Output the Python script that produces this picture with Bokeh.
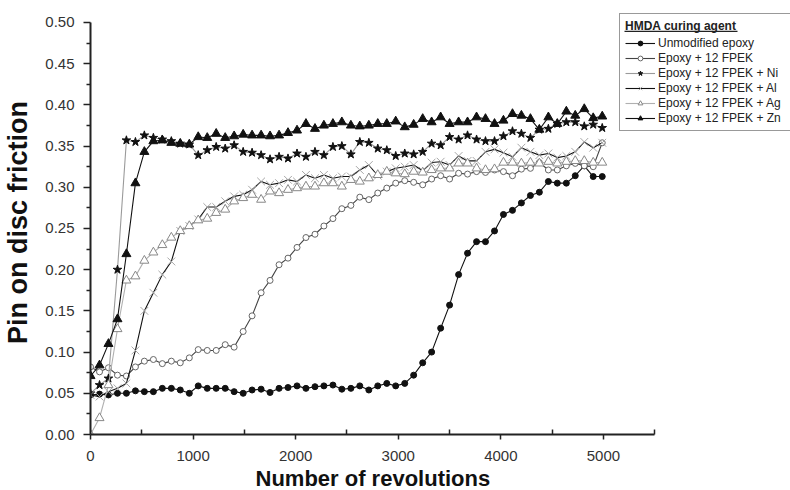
from bokeh.plotting import figure
from bokeh.models import (Legend, LegendItem, NumeralTickFormatter, FixedTicker,
                          Range1d, Title)
from bokeh.embed import file_html
from bokeh.resources import INLINE

# ---- data ----
revolutions = [0, 88, 175, 263, 350, 438, 525, 613, 700, 788, 875, 963, 1050, 1138, 1225,
               1313, 1400, 1488, 1575, 1663, 1750, 1838, 1925, 2013, 2100, 2188, 2275, 2363,
               2450, 2538, 2625, 2713, 2800, 2888, 2975, 3063, 3150, 3238, 3325, 3413, 3500,
               3588, 3675, 3763, 3850, 3938, 4025, 4113, 4200, 4288, 4375, 4463, 4550, 4638,
               4725, 4813, 4900, 4988]

unmodified = [0.048, 0.049, 0.048, 0.050, 0.050, 0.053, 0.052, 0.052, 0.056, 0.056, 0.054, 0.050,
              0.059, 0.056, 0.056, 0.056, 0.052, 0.050, 0.054, 0.055, 0.051, 0.056, 0.057, 0.059,
              0.056, 0.058, 0.059, 0.060, 0.055, 0.056, 0.059, 0.054,
              0.059, 0.062, 0.059, 0.062, 0.072, 0.087, 0.100, 0.129, 0.157, 0.194, 0.220, 0.234,
              0.234, 0.247, 0.267, 0.272, 0.281, 0.290, 0.294, 0.307, 0.305, 0.305, 0.314, 0.326,
              0.313, 0.313]

fpek = [0.082, 0.076, 0.081, 0.072, 0.071, 0.082, 0.089, 0.091, 0.086, 0.089, 0.087, 0.093,
        0.103, 0.102, 0.102, 0.109, 0.106, 0.125, 0.144, 0.172, 0.187, 0.206, 0.214, 0.227,
        0.239, 0.243, 0.253, 0.262, 0.274, 0.278, 0.288, 0.285,
        0.293, 0.299, 0.305, 0.308, 0.306, 0.303, 0.310, 0.314, 0.310, 0.317, 0.316, 0.319,
        0.318, 0.321, 0.319, 0.314, 0.322, 0.323, 0.330, 0.321, 0.321, 0.326, 0.329, 0.326,
        0.325, 0.354]

fpek_ni = [0.050, 0.060, 0.068, 0.200, 0.357, 0.355, 0.363, 0.360, 0.358, 0.356, 0.353, 0.352,
           0.339, 0.345, 0.349, 0.347, 0.351, 0.343, 0.342, 0.339, 0.334, 0.337, 0.335, 0.341,
           0.337, 0.343, 0.339, 0.349, 0.350, 0.340, 0.355, 0.354,
           0.347, 0.345, 0.338, 0.341, 0.340, 0.343, 0.353, 0.351, 0.361, 0.358, 0.363, 0.358,
           0.356, 0.356, 0.362, 0.368, 0.365, 0.360, 0.370, 0.371, 0.377, 0.379, 0.379, 0.374,
           0.376, 0.372]

fpek_al = [0.048, 0.046, 0.052, 0.056, 0.062, 0.102, 0.150, 0.172, 0.194, 0.210, 0.247, 0.253,
           0.261, 0.276, 0.276, 0.283, 0.289, 0.291, 0.297, 0.307, 0.303, 0.305, 0.309, 0.307,
           0.315, 0.311, 0.315, 0.311, 0.313, 0.313, 0.321, 0.327,
           0.314, 0.319, 0.323, 0.325, 0.327, 0.320, 0.330, 0.331, 0.327, 0.338, 0.332, 0.332,
           0.343, 0.346, 0.342, 0.337, 0.348, 0.343, 0.339, 0.341, 0.336, 0.338, 0.343, 0.355,
           0.348, 0.354]

fpek_ag = [0.000, 0.020, 0.060, 0.128, 0.187, 0.192, 0.211, 0.221, 0.230, 0.239, 0.247, 0.253,
           0.260, 0.262, 0.269, 0.273, 0.283, 0.287, 0.291, 0.285, 0.295, 0.293, 0.297, 0.299,
           0.301, 0.301, 0.305, 0.305, 0.301, 0.309, 0.307, 0.311,
           0.315, 0.319, 0.317, 0.316, 0.319, 0.318, 0.321, 0.323, 0.323, 0.329, 0.329, 0.323,
           0.321, 0.322, 0.330, 0.330, 0.329, 0.330, 0.329, 0.331, 0.329, 0.331, 0.332, 0.332,
           0.330, 0.330]

fpek_zn = [0.071, 0.084, 0.110, 0.140, 0.219, 0.305, 0.343, 0.356, 0.357, 0.354, 0.353, 0.352,
           0.361, 0.360, 0.365, 0.360, 0.362, 0.364, 0.363, 0.363, 0.362, 0.363, 0.366, 0.369,
           0.377, 0.371, 0.375, 0.377, 0.379, 0.375, 0.374, 0.375,
           0.377, 0.377, 0.380, 0.373, 0.376, 0.383, 0.379, 0.385, 0.377, 0.379, 0.379, 0.385,
           0.383, 0.377, 0.381, 0.389, 0.387, 0.383, 0.370, 0.385, 0.377, 0.392, 0.387, 0.395,
           0.384, 0.386]

labels = ["Unmodified epoxy", "Epoxy + 12 FPEK", "Epoxy + 12 FPEK + Ni",
          "Epoxy + 12 FPEK + Al", "Epoxy + 12 FPEK + Ag", "Epoxy + 12 FPEK + Zn"]
legend_title = "HMDA curing agent"
x_title = "Number of revolutions"
y_title = "Pin on disc friction"
x_major = [0, 1000, 2000, 3000, 4000, 5000]
x_minor = [500, 1500, 2500, 3500, 4500, 5500]
y_major = [0.0, 0.05, 0.10, 0.15, 0.20, 0.25, 0.30, 0.35, 0.40, 0.45, 0.50]
y_minor = [0.025, 0.075, 0.125, 0.175, 0.225, 0.275, 0.325, 0.375, 0.425, 0.475]

FONT = "Liberation Sans"

# frame: 90..790 px horizontally, 10..436 px vertically (so the legend is not clipped);
# the axis lines are limited to the axis span with bounds
X_END = 6823     # data value at the right edge of the frame
Y_END = 0.5145   # data value at the top edge of the frame
p = figure(width=790, height=490, output_backend="svg", toolbar_location=None,
           x_range=Range1d(0, X_END), y_range=Range1d(0, Y_END),
           min_border_left=90, min_border_right=0, min_border_top=10, min_border_bottom=54)
p.xgrid.visible = False
p.ygrid.visible = False
p.outline_line_color = None
p.background_fill_color = "white"

# axes
p.xaxis.ticker = FixedTicker(ticks=x_major, minor_ticks=x_minor)
p.yaxis.ticker = FixedTicker(ticks=y_major, minor_ticks=y_minor)
p.xaxis.formatter = NumeralTickFormatter(format="0")
p.yaxis.formatter = NumeralTickFormatter(format="0.00")
p.xaxis.bounds = (0, 5500)
p.yaxis.bounds = (0, 0.5)
p.yaxis.axis_label = y_title
for ax in (p.xaxis[0], p.yaxis[0]):
    ax.axis_line_color = "#222222"
    ax.axis_line_width = 2
    ax.major_tick_line_color = "#222222"
    ax.minor_tick_line_color = "#222222"
    ax.major_tick_line_width = 1.5
    ax.minor_tick_line_width = 1.5
    ax.major_label_text_font = FONT
    ax.major_label_text_font_size = "15px"
    ax.major_label_text_color = "#333333"
    ax.major_label_text_line_height = 1.0
    ax.axis_label_text_font = FONT
    ax.axis_label_text_font_style = "bold"
    ax.axis_label_text_color = "#111111"
p.yaxis.axis_label_text_font_size = "27px"
p.xaxis.major_tick_out = 5
p.xaxis.major_tick_in = 0
p.xaxis.minor_tick_in = 5
p.xaxis.minor_tick_out = 0
p.xaxis.major_label_standoff = 11
p.yaxis.major_tick_out = 7
p.yaxis.major_tick_in = 0
p.yaxis.minor_tick_out = 4
p.yaxis.minor_tick_in = 0
p.yaxis.major_label_standoff = 9
p.yaxis.axis_label_standoff = 9

# x title placed below the axis, centred on the 0-5500 axis span
xt = Title(text=x_title, align="left", offset=165, standoff=0,
           text_font=FONT, text_font_size="22px", text_font_style="bold",
           text_color="#111111", text_line_height=1.0)
p.add_layout(xt, "below")

# series
styles = [
    dict(y=unmodified, line="#111111", marker="circle", size=6, fill="#111111", mline="#111111"),
    dict(y=fpek, line="#444444", marker="circle", size=6, fill="white", mline="#666666"),
    dict(y=fpek_ni, line="#9a9a9a", marker="star", size=9, fill="#111111", mline="#111111"),
    dict(y=fpek_al, line="#111111", marker="x", size=11, fill=None, mline="#a8a8a8"),
    dict(y=fpek_ag, line="#b0b0b0", marker="triangle", size=9, fill="white", mline="#888888"),
    dict(y=fpek_zn, line="#111111", marker="triangle", size=9, fill="#111111", mline="#111111"),
]

items = []
for lab, st in zip(labels, styles):
    lr = p.line(revolutions, st["y"], line_color=st["line"], line_width=1.1)
    sr = p.scatter(revolutions, st["y"], marker=st["marker"], size=st["size"],
                   fill_color=st["fill"], line_color=st["mline"], line_width=1)
    items.append(LegendItem(label=lab, renderers=[lr, sr]))

# underline under the legend title: a decoration; the legend background is
# transparent (no data lies under it) so this shows through.
# pixel position converted to the frame's data space (frame 700 x 426 px)
def px_to_x(px):
    return (px - 90) * X_END / 700.0

def py_to_y(py):
    return (436 - py) * Y_END / 426.0

p.segment(x0=[px_to_x(624)], y0=[py_to_y(31)], x1=[px_to_x(737)], y1=[py_to_y(31)],
          line_color="#222222", line_width=1.2)

legend = Legend(items=items, location=(529, 303), orientation="vertical")
legend.title = legend_title
legend.title_text_font = FONT
legend.title_text_font_size = "12px"
legend.title_text_font_style = "bold"
legend.title_text_color = "#222222"
legend.title_standoff = 3
legend.label_text_font = FONT
legend.label_text_font_size = "12px"
legend.label_text_color = "#222222"
legend.label_height = 12
legend.label_width = 150
legend.glyph_height = 12
legend.glyph_width = 30
legend.label_standoff = 3
legend.spacing = 1
legend.padding = 5
legend.margin = 0
legend.border_line_color = "#333333"
legend.border_line_width = 1
legend.background_fill_alpha = 0
p.add_layout(legend)

open("out.html", "w").write(file_html(p, INLINE))
